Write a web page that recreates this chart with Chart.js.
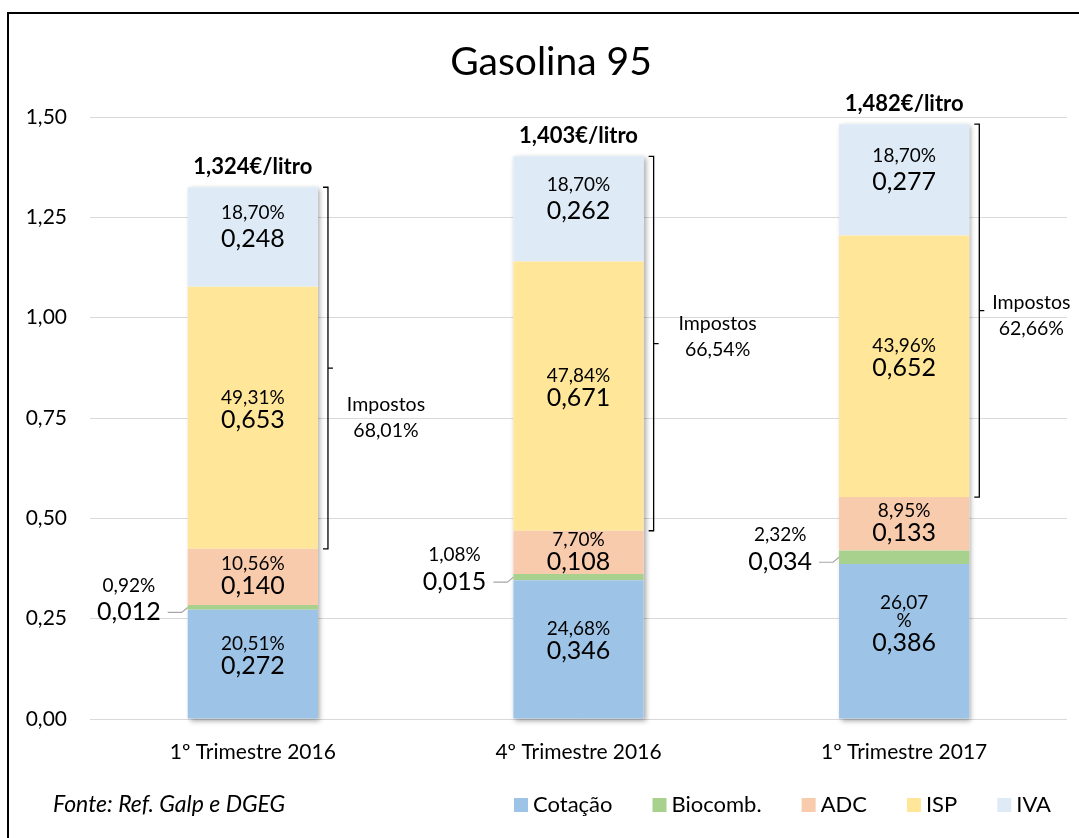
<!DOCTYPE html>
<html>
<head>
<meta charset="utf-8">
<script src="https://cdn.jsdelivr.net/npm/chart.js@4.4.1/dist/chart.umd.min.js"></script>
<style>
  html, body { margin: 0; padding: 0; background: #fff; }
</style>
</head>
<body>
<canvas id="chart" width="1079" height="838"></canvas>
<script>
// data
const categories = ['1º Trimestre 2016', '4º Trimestre 2016', '1º Trimestre 2017'];
const cotacao = [0.272, 0.346, 0.386];
const biocomb = [0.012, 0.015, 0.034];
const adc = [0.140, 0.108, 0.133];
const isp = [0.653, 0.671, 0.652];
const iva = [0.248, 0.262, 0.277];
const totals = [1.324, 1.403, 1.482];
const cotacaoPct = ['20,51%', '24,68%', '26,07\n%'];
const biocombPct = ['0,92%', '1,08%', '2,32%'];
const adcPct = ['10,56%', '7,70%', '8,95%'];
const ispPct = ['49,31%', '47,84%', '43,96%'];
const ivaPct = ['18,70%', '18,70%', '18,70%'];
const impostosPct = ['68,01%', '66,54%', '62,66%'];
const yTicks = [0, 0.25, 0.5, 0.75, 1.0, 1.25, 1.5];

const FONT = 'Lato, "Open Sans", sans-serif';
const pctLabels = [cotacaoPct, biocombPct, adcPct, ispPct, ivaPct];

// where the "Impostos" text sits next to each bracket (manually placed in the original)
const impostosDx = [58, 64, 52];
const impostosDy = [37, -20, -8];

function fmt(v, d) {
    return v.toFixed(d).replace('.', ',');
}

const annotations = {
    id: 'annotations',
    beforeDatasetsDraw(chart) {
        // soft shadow behind each whole stack
        const ctx = chart.ctx;
        const first = chart.getDatasetMeta(0);
        const last = chart.getDatasetMeta(chart.data.datasets.length - 1);
        ctx.save();
        first.data.forEach((bar, i) => {
            const top = last.data[i].y;
            ctx.shadowColor = 'rgba(0,0,0,0.35)';
            ctx.shadowBlur = 5;
            ctx.shadowOffsetX = 2;
            ctx.shadowOffsetY = 2;
            ctx.fillStyle = '#fff';
            ctx.fillRect(bar.x - bar.width / 2, top, bar.width, bar.base - top);
        });
        ctx.restore();
    },
    afterDatasetsDraw(chart) {
        const ctx = chart.ctx;
        const n = chart.data.datasets.length;
        ctx.save();
        ctx.fillStyle = '#000';
        ctx.textAlign = 'center';
        ctx.textBaseline = 'middle';

        // labels inside the segments
        [0, 2, 3, 4].forEach(k => {
            const meta = chart.getDatasetMeta(k);
            const values = chart.data.datasets[k].data;
            const gap = k === 4 ? 26 : 22;
            meta.data.forEach((el, i) => {
                const center = (el.y + el.base) / 2;
                const h = el.base - el.y;
                const vy = center + 2 + (h < 60 ? 7 : 0);
                ctx.font = '25px ' + FONT;
                ctx.fillText(fmt(values[i], 3), el.x, vy);
                const lines = pctLabels[k][i].split('\n');
                ctx.font = '19px ' + FONT;
                lines.forEach((t, j) => {
                    ctx.fillText(t, el.x, vy - gap - (lines.length - 1 - j) * 18);
                });
            });
        });

        // Biocomb labels sit left of the bar with a leader line
        const bio = chart.getDatasetMeta(1);
        bio.data.forEach((el, i) => {
            const center = (el.y + el.base) / 2;
            const left = el.x - el.width / 2;
            const vy = center + 5;
            const txt = fmt(biocomb[i], 3);
            ctx.font = '25px ' + FONT;
            const w = ctx.measureText(txt).width;
            const right = left - 27;
            ctx.textAlign = 'right';
            ctx.fillText(txt, right, vy);
            ctx.textAlign = 'center';
            ctx.font = '19px ' + FONT;
            ctx.fillText(biocombPct[i], right - w / 2, vy - 27);
            ctx.strokeStyle = '#a6a6a6';
            ctx.lineWidth = 1.2;
            ctx.beginPath();
            ctx.moveTo(left - 20, vy);
            ctx.lineTo(left - 6, vy);
            ctx.lineTo(left, center);
            ctx.stroke();
        });

        // totals above bars
        const top = chart.getDatasetMeta(n - 1);
        ctx.font = 'bold 22px ' + FONT;
        top.data.forEach((el, i) => {
            ctx.fillText(fmt(totals[i], 3) + '€/litro', el.x, el.y - 20);
        });

        // "Impostos" brackets over ISP + IVA
        const ispMeta = chart.getDatasetMeta(3);
        ctx.strokeStyle = '#000';
        ctx.lineWidth = 1.3;
        top.data.forEach((el, i) => {
            const y0 = el.y;
            const y1 = ispMeta.data[i].base;
            const mid = (y0 + y1) / 2;
            const bx = el.x + el.width / 2 + 10;
            ctx.beginPath();
            ctx.moveTo(bx - 5, y0);
            ctx.lineTo(bx, y0);
            ctx.lineTo(bx, y1);
            ctx.lineTo(bx - 5, y1);
            ctx.moveTo(bx, mid);
            ctx.lineTo(bx + 5, mid);
            ctx.stroke();
            ctx.font = '19.5px ' + FONT;
            ctx.fillText('Impostos', bx + impostosDx[i], mid + impostosDy[i]);
            ctx.fillText(impostosPct[i], bx + impostosDx[i], mid + impostosDy[i] + 26);
        });
        ctx.restore();
    },
    afterDraw(chart) {
        const ctx = chart.ctx;
        ctx.save();
        // frame
        ctx.strokeStyle = '#000';
        ctx.lineWidth = 2;
        ctx.beginPath();
        ctx.moveTo(8, 838);
        ctx.lineTo(8, 13);
        ctx.lineTo(1079, 13);
        ctx.stroke();

        ctx.fillStyle = '#000';
        ctx.textBaseline = 'middle';
        ctx.textAlign = 'center';
        ctx.font = '39px ' + FONT;
        ctx.fillText('Gasolina 95', 551, 62);

        ctx.textAlign = 'left';
        ctx.font = 'italic 23px ' + FONT;
        ctx.fillText('Fonte: Ref. Galp e DGEG', 53, 805);

        // legend
        let x = 514;
        ctx.font = '22px ' + FONT;
        chart.data.datasets.forEach(ds => {
            ctx.fillStyle = ds.backgroundColor;
            ctx.fillRect(x, 798, 14, 14);
            ctx.fillStyle = '#000';
            ctx.fillText(ds.label, x + 19, 805);
            x += 19 + ctx.measureText(ds.label).width + 40;
        });
        ctx.restore();
    }
};

new Chart(document.getElementById('chart'), {
    type: 'bar',
    data: {
        labels: categories,
        datasets: [
            { label: 'Cotação', data: cotacao, backgroundColor: '#9DC3E6' },
            { label: 'Biocomb.', data: biocomb, backgroundColor: '#A9D18E' },
            { label: 'ADC', data: adc, backgroundColor: '#F8CBAD' },
            { label: 'ISP', data: isp, backgroundColor: '#FFE699' },
            { label: 'IVA', data: iva, backgroundColor: '#DEEBF7' }
        ]
    },
    options: {
        responsive: false,
        animation: false,
        layout: { padding: { top: 117, right: 12, left: 0, bottom: 0 } },
        datasets: { bar: { barPercentage: 0.4, categoryPercentage: 1 } },
        plugins: {
            legend: { display: false },
            title: { display: false },
            tooltip: { enabled: false }
        },
        scales: {
            x: {
                stacked: true,
                grid: { display: false, drawTicks: false },
                border: { display: false },
                ticks: { color: '#000', font: { family: FONT, size: 21 }, padding: 21 },
                afterFit(scale) { scale.height = 119; }
            },
            y: {
                stacked: true,
                min: 0,
                max: 1.5,
                afterBuildTicks(scale) { scale.ticks = yTicks.map(v => ({ value: v })); },
                grid: { color: '#d9d9d9', lineWidth: 1, drawTicks: false },
                border: { display: false },
                ticks: {
                    color: '#000',
                    font: { family: FONT, size: 21 },
                    padding: 23,
                    callback: v => fmt(v, 2)
                },
                afterFit(scale) { scale.width = 90; }
            }
        }
    },
    plugins: [annotations]
});
</script>
</body>
</html>
